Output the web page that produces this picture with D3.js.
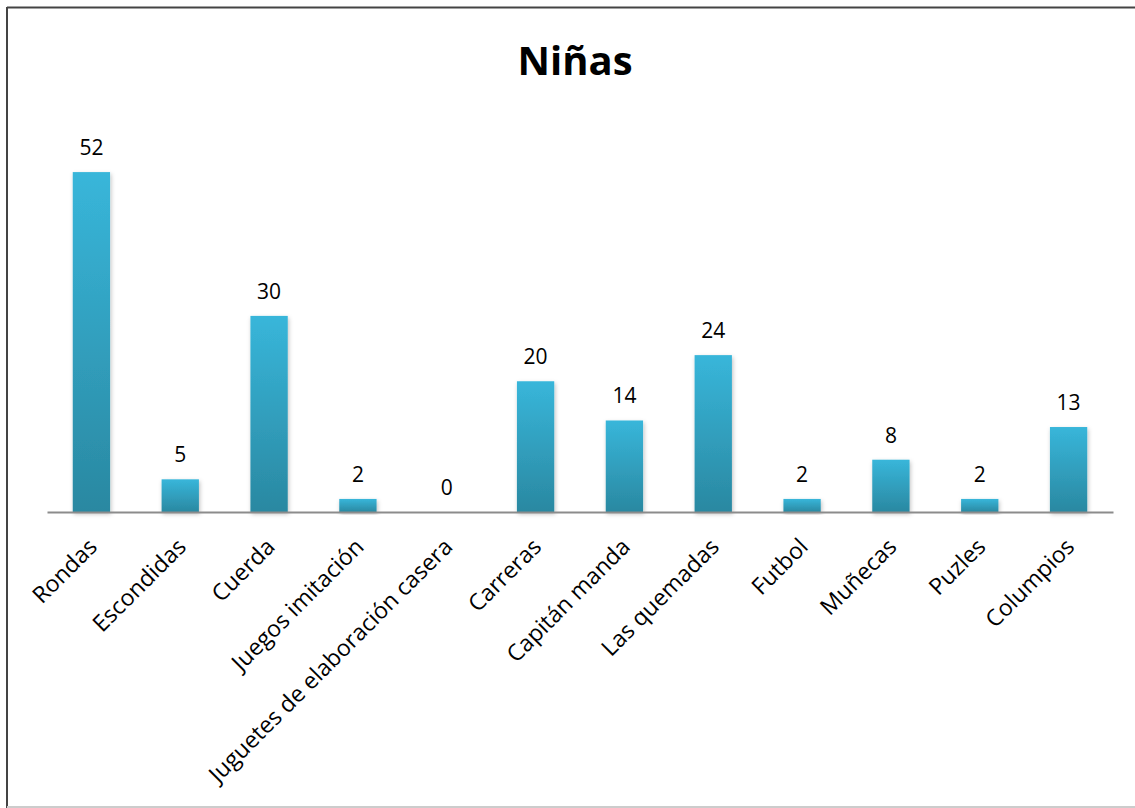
<!DOCTYPE html>
<html><head><meta charset="utf-8">
<script src="https://cdn.jsdelivr.net/npm/d3@7"></script>
<style>html,body{margin:0;padding:0;background:#fff;}svg{display:block;}</style>
</head><body>
<script>
const categories = ["Rondas","Escondidas","Cuerda","Juegos imitación","Juguetes de elaboración casera","Carreras","Capitán manda","Las quemadas","Futbol","Muñecas","Puzles","Columpios"];
const values = [52,5,30,2,0,20,14,24,2,8,2,13];
const title = "Niñas";

const W = 1135, H = 808;
const svg = d3.select("body").append("svg").attr("width", W).attr("height", H);
const defs = svg.append("defs");
const grad = defs.append("linearGradient").attr("id","barGrad").attr("x1",0).attr("y1",0).attr("x2",0).attr("y2",1);
grad.append("stop").attr("offset","0%").attr("stop-color","#38b6da");
grad.append("stop").attr("offset","100%").attr("stop-color","#2a88a1");
const filt = defs.append("filter").attr("id","shadow").attr("x","-30%").attr("y","-10%").attr("width","160%").attr("height","130%");
filt.append("feDropShadow").attr("dx",1).attr("dy",2).attr("stdDeviation",2).attr("flood-color","#000").attr("flood-opacity",0.25);

// frame
svg.append("rect").attr("x",0).attr("y",0).attr("width",W).attr("height",H).attr("fill","#fff");
svg.append("line").attr("x1",7).attr("x2",W).attr("y1",7.5).attr("y2",7.5).attr("stroke","#444").attr("stroke-width",2);
svg.append("line").attr("x1",7).attr("x2",7).attr("y1",7).attr("y2",H).attr("stroke","#444").attr("stroke-width",2);
svg.append("line").attr("x1",7).attr("x2",W).attr("y1",807).attr("y2",807).attr("stroke","#ccc").attr("stroke-width",2);

const font = "'Open Sans', sans-serif";

svg.append("text").attr("x",575).attr("y",75).attr("text-anchor","middle")
  .attr("font-family",font).attr("font-weight","bold").attr("font-size",40).attr("fill","#000").text(title);

const x = d3.scaleBand().domain(categories).range([47,1113]).paddingInner(0.58).paddingOuter(0.29);
const y = d3.scaleLinear().domain([0,60]).range([512,119.8]);

svg.append("g").selectAll("rect").data(values).join("rect")
  .attr("x",(d,i)=>x(categories[i]))
  .attr("y",d=>y(d))
  .attr("width",x.bandwidth())
  .attr("height",d=>y(0)-y(d))
  .attr("fill","url(#barGrad)")
  .attr("filter","url(#shadow)");

const axis = svg.append("g").attr("transform",`translate(0,${y(0)})`).call(d3.axisBottom(x).tickSize(0).tickFormat(""));
axis.select(".domain").attr("stroke","#8c8c8c").attr("stroke-width",2);

svg.append("g").selectAll("text").data(values).join("text")
  .attr("x",(d,i)=>x(categories[i])+x.bandwidth()/2)
  .attr("y",d=>y(d)-17)
  .attr("text-anchor","middle")
  .attr("font-family",font).attr("font-size",21).attr("fill","#000")
  .text(d=>d);

svg.append("g").selectAll("text").data(categories).join("text")
  .attr("transform",d=>`translate(${x(d)+x.bandwidth()/2-5},${536}) rotate(-45)`)
  .attr("text-anchor","end")
  .attr("dy","0.75em")
  .attr("font-family",font).attr("font-size",23).attr("fill","#000")
  .text(d=>d);
</script>
</body></html>
